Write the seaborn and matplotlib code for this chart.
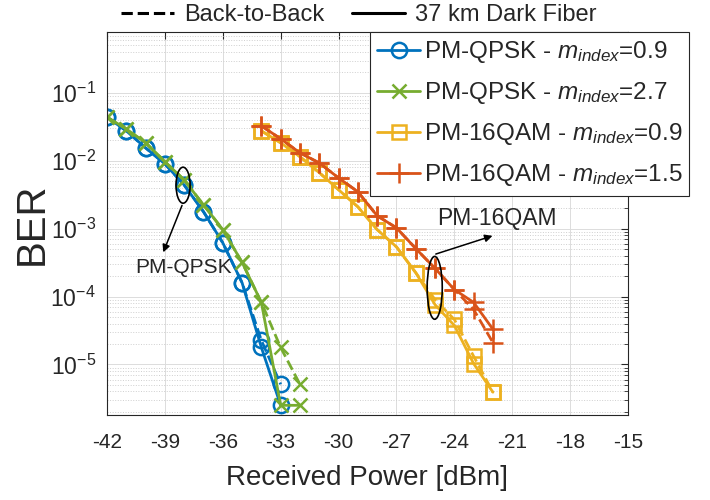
import numpy as np
import pandas as pd
import matplotlib
matplotlib.use("Agg")
import matplotlib.pyplot as plt
import seaborn as sns
from matplotlib.lines import Line2D
from matplotlib.patches import Ellipse

# -------------------------
# Data
# -------------------------
power_qpsk_09 = [-42, -41, -40, -39, -38, -37, -36, -35, -34, -33]
ber_qpsk_09_b2b = [4.4e-2, 2.76e-2, 1.55e-2, 9.0e-3, 4.4e-3, 1.78e-3, 6.2e-4, 1.6e-4, 2.26e-5, 5.1e-6]
ber_qpsk_09_fib = [4.4e-2, 2.76e-2, 1.55e-2, 9.0e-3, 4.4e-3, 1.78e-3, 6.2e-4, 1.6e-4, 1.78e-5, 2.5e-6]

power_qpsk_27 = [-42, -41, -40, -39, -38, -37, -36, -35, -34, -33, -32]
ber_qpsk_27_b2b = [4.4e-2, 2.95e-2, 1.84e-2, 9.7e-3, 5.2e-3, 2.25e-3, 9.7e-4, 3.2e-4, 8.2e-5, 1.78e-5, 5.1e-6]
ber_qpsk_27_fib = [4.4e-2, 2.95e-2, 1.84e-2, 9.7e-3, 5.2e-3, 2.25e-3, 9.7e-4, 3.2e-4, 8.2e-5, 2.5e-6, 2.5e-6]

power_16qam = [-34, -33, -32, -31, -30, -29, -28, -27, -26, -25, -24, -23, -22]
ber_16qam_09_b2b = [2.76e-2, 1.84e-2, 1.15e-2, 6.7e-3, 3.75e-3, 2.1e-3, 9.7e-4, 5.4e-4, 2.25e-4, 9.0e-5, 4.6e-5, 1.32e-5, 3.9e-6]
ber_16qam_09_fib = [2.76e-2, 1.84e-2, 1.15e-2, 6.7e-3, 3.75e-3, 2.1e-3, 9.7e-4, 5.4e-4, 2.25e-4, 7.6e-5, 3.75e-5, 1.03e-5, 3.9e-6]
ber_16qam_15_b2b = [3.27e-2, 2.11e-2, 1.31e-2, 9.3e-3, 5.6e-3, 3.5e-3, 1.55e-3, 1.03e-3, 5.1e-4, 2.6e-4, 1.27e-4, 6.45e-5, 2.1e-5]
ber_16qam_15_fib = [3.27e-2, 2.11e-2, 1.31e-2, 9.3e-3, 5.6e-3, 3.5e-3, 1.55e-3, 1.03e-3, 5.1e-4, 2.6e-4, 1.27e-4, 8.2e-5, 3.3e-5]

labels = [r"PM-QPSK - $\mathit{m}_{\mathit{index}}$=0.9", r"PM-QPSK - $\mathit{m}_{\mathit{index}}$=2.7",
          r"PM-16QAM - $\mathit{m}_{\mathit{index}}$=0.9", r"PM-16QAM - $\mathit{m}_{\mathit{index}}$=1.5"]
colors = ["#0072BD", "#77AC30", "#EDB120", "#D95319"]
markers = ["o", "x", "s", "+"]
msizes = [11, 10, 10, 14]
xticks = [-42, -39, -36, -33, -30, -27, -24, -21, -18, -15]

series = [
    (power_qpsk_09, ber_qpsk_09_b2b, ber_qpsk_09_fib),
    (power_qpsk_27, ber_qpsk_27_b2b, ber_qpsk_27_fib),
    (power_16qam, ber_16qam_09_b2b, ber_16qam_09_fib),
    (power_16qam, ber_16qam_15_b2b, ber_16qam_15_fib),
]

# -------------------------
# Style
# -------------------------
sns.set_style("white")
plt.rcParams["font.family"] = ["Liberation Sans", "DejaVu Sans"]
plt.rcParams["mathtext.fontset"] = "custom"
plt.rcParams["mathtext.rm"] = "Liberation Sans"
plt.rcParams["mathtext.it"] = "Liberation Sans:italic"
plt.rcParams["mathtext.default"] = "regular"

fig = plt.figure(figsize=(7.1, 5), dpi=100)
ax = fig.add_axes([0.1507, 0.17, 0.7338, 0.766])

for (xs, b2b, fib), c, m, ms in zip(series, colors, markers, msizes):
    for ys, ls in [(b2b, "--"), (fib, "-")]:
        df = pd.DataFrame({"power": xs, "ber": ys})
        sns.lineplot(data=df, x="power", y="ber", ax=ax, color=c, linestyle=ls,
                     linewidth=2.0, marker=m, markersize=ms, markerfacecolor="none",
                     markeredgecolor=c, markeredgewidth=1.8, estimator=None,
                     legend=False)

ax.set_yscale("log")
ax.set_xlim(-42, -15)
ax.set_ylim(1.8e-6, 0.79)
ax.set_xticks(xticks)
ax.set_xticklabels([str(t) for t in xticks])

ax.grid(True, which="major", color="#dcdcdc", linewidth=0.7)
ax.grid(True, which="minor", axis="y", color="#cfcfcf", linestyle=":", linewidth=0.7)
ax.tick_params(which="both", direction="in", top=True, right=True,
               colors="#262626")
ax.tick_params(axis="x", labelsize=15, pad=13)
ax.tick_params(axis="y", labelsize=16.5, pad=8)
ax.tick_params(which="major", length=5)
ax.tick_params(which="minor", length=3)
for sp in ax.spines.values():
    sp.set_color("#262626")
    sp.set_linewidth(0.8)

ax.set_xlabel("Received Power [dBm]", fontsize=20, color="#262626", labelpad=9)
ax.set_ylabel("BER", fontsize=29, color="#262626", labelpad=0)

# -------------------------
# Annotations
# -------------------------
ax.add_patch(Ellipse((0.146, 0.600), 0.027, 0.094, transform=ax.transAxes,
                     fill=False, edgecolor="black", linewidth=1.2, zorder=5))
ax.annotate("", xy=(0.106, 0.418), xytext=(0.146, 0.554),
            xycoords="axes fraction", textcoords="axes fraction",
            arrowprops=dict(arrowstyle="-|>", color="black", lw=1.1, mutation_scale=11))
ax.text(0.054, 0.384, "PM-QPSK", transform=ax.transAxes, fontsize=15,
        va="center", ha="left")

ax.add_patch(Ellipse((0.629, 0.332), 0.029, 0.164, transform=ax.transAxes,
                     fill=False, edgecolor="black", linewidth=1.2, zorder=5))
ax.annotate("", xy=(0.745, 0.470), xytext=(0.626, 0.418),
            xycoords="axes fraction", textcoords="axes fraction",
            arrowprops=dict(arrowstyle="-|>", color="black", lw=1.1, mutation_scale=11))
ax.text(0.633, 0.512, "PM-16QAM", transform=ax.transAxes, fontsize=16.5,
        va="center", ha="left")

# -------------------------
# Legends
# -------------------------
handles = [Line2D([], [], color=c, marker=m, markersize=ms, markerfacecolor="none",
                  markeredgecolor=c, markeredgewidth=1.8, linewidth=2.0)
           for c, m, ms in zip(colors, markers, msizes)]
leg = ax.legend(handles, labels, loc="upper left", bbox_to_anchor=(0.505, 1.0),
                fontsize=17.5, frameon=True, fancybox=False, framealpha=1,
                edgecolor="#262626", handlelength=1.75, handletextpad=0.15,
                labelspacing=0.62, borderpad=0.3, borderaxespad=0.0)
leg.get_frame().set_linewidth(0.8)

top_handles = [Line2D([], [], color="black", linestyle="--", linewidth=2.2),
               Line2D([], [], color="black", linestyle="-", linewidth=2.2)]
fig.legend(top_handles, ["Back-to-Back", "37 km Dark Fiber"], loc="center left",
           bbox_to_anchor=(0.170, 0.97), ncol=2, frameon=False, fontsize=17,
           handlelength=2.25, handletextpad=0.42, columnspacing=1.2,
           borderpad=0.0, borderaxespad=0.0)

plt.savefig("out.png", dpi=100)
